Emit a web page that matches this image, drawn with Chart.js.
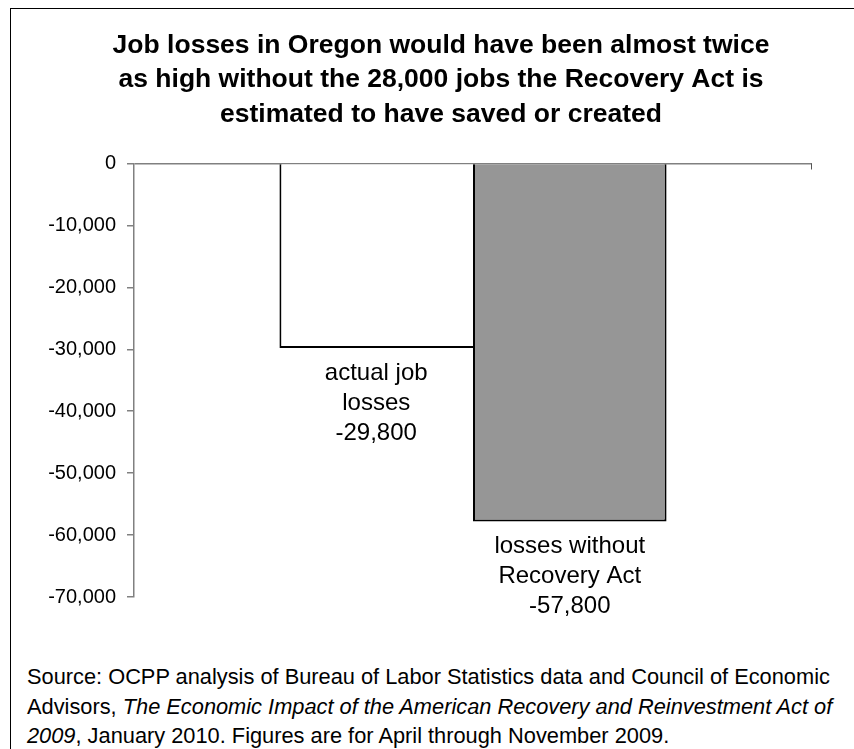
<!DOCTYPE html>
<html>
<head>
<meta charset="utf-8">
<script src="https://cdn.jsdelivr.net/npm/chart.js@4/dist/chart.umd.min.js"></script>
<style>
  body { margin: 0; background: #fff; overflow: hidden; font-family: "Liberation Sans", Arial, sans-serif; }
  #frame { position: absolute; left: 10px; top: 8px; width: 860px; height: 800px; border: 1.5px solid #000; }
  #source { position: absolute; left: 16px; top: 653px; font-size: 21.8px; line-height: 29.5px; color: #000; white-space: nowrap; }
</style>
</head>
<body>
<div id="frame">
  <canvas id="chart" width="860" height="620"></canvas>
  <div id="source">
    Source: OCPP analysis of Bureau of Labor Statistics data and Council of Economic<br>
    Advisors, <i>The Economic Impact of the American Recovery and Reinvestment Act of<br>
    2009</i>, January 2010. Figures are for April through November 2009.
  </div>
</div>
<script>
// chart data
const categories = [''];
const actualLosses = [-29800];
const lossesWithoutAct = [-57800];
const barLabels = [
  ['actual job', 'losses', '-29,800'],
  ['losses without', 'Recovery Act', '-57,800']
];
const yMin = -70000;
const yMax = 0;
const yStep = 10000;
const titleLines = [
  'Job losses in Oregon would have been almost twice',
  'as high without the 28,000 jobs the Recovery Act is',
  'estimated to have saved or created'
];

const FONT = '"Liberation Sans", Arial, sans-serif';

// text under each bar + small tick at right end of the zero line
const barLabelPlugin = {
  id: 'barLabels',
  afterDatasetsDraw(chart) {
    const c = chart.ctx;
    c.save();
    c.fillStyle = '#000';
    c.font = '24px ' + FONT;
    c.textAlign = 'center';
    c.textBaseline = 'middle';
    chart.data.datasets.forEach((ds, i) => {
      const bar = chart.getDatasetMeta(i).data[0];
      barLabels[i].forEach((line, j) => {
        c.fillText(line, bar.x, bar.y + 25 + j * 30);
      });
    });
    const y0 = chart.scales.y.getPixelForValue(0);
    const xr = chart.chartArea.right;
    c.strokeStyle = '#555';
    c.lineWidth = 1;
    c.beginPath();
    c.moveTo(xr - 0.5, y0);
    c.lineTo(xr - 0.5, y0 + 6);
    c.stroke();
    c.restore();
  }
};

new Chart(document.getElementById('chart'), {
  type: 'bar',
  data: {
    labels: categories,
    datasets: [{
      label: 'actual job losses',
      data: actualLosses,
      backgroundColor: '#ffffff',
      borderColor: '#000000',
      borderWidth: { left: 2, right: 0, bottom: 2, top: 0 },
      borderSkipped: false,
      categoryPercentage: 0.571,
      barPercentage: 1
    }, {
      label: 'losses without Recovery Act',
      data: lossesWithoutAct,
      backgroundColor: '#969696',
      borderColor: '#000000',
      borderWidth: { left: 2, right: 2, bottom: 2, top: 0 },
      borderSkipped: false,
      categoryPercentage: 0.571,
      barPercentage: 1
    }]
  },
  options: {
    responsive: false,
    animation: false,
    layout: { padding: { left: 0, right: 0, top: 0, bottom: 32 } },
    plugins: {
      legend: { display: false },
      tooltip: { enabled: false },
      title: {
        display: true,
        text: titleLines,
        color: '#000',
        font: { family: FONT, size: 26.5, weight: 'bold', lineHeight: '34.5px' },
        padding: { top: 19, bottom: 32 }
      }
    },
    scales: {
      x: { display: false },
      y: {
        min: yMin,
        max: yMax,
        afterFit: scale => { scale.width = 123; },
        ticks: {
          stepSize: yStep,
          color: '#000',
          padding: 11,
          font: { family: FONT, size: 20 },
          callback: v => v.toLocaleString('en-US')
        },
        grid: {
          color: ctx => (ctx.tick && ctx.tick.value === 0 ? '#808080' : 'rgba(0,0,0,0)'),
          tickColor: '#808080',
          tickLength: 7,
          lineWidth: 1.5
        },
        border: { color: '#808080', width: 1.5 }
      },
      // empty right-hand axis, only reserves the space right of the plot
      yRight: {
        position: 'right',
        min: yMin,
        max: yMax,
        afterFit: scale => { scale.width = 59; },
        ticks: { display: false },
        grid: { display: false },
        border: { display: false }
      }
    }
  },
  plugins: [barLabelPlugin]
});
</script>
</body>
</html>
